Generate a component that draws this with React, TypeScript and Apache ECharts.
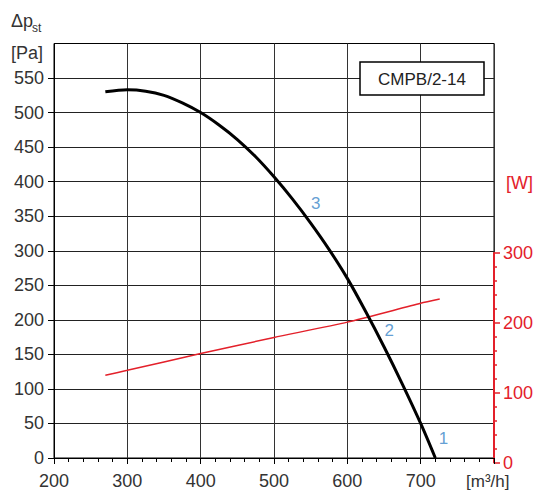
import React, { useEffect, useRef } from "react";
import * as echarts from "echarts";

const flowP = [270, 300, 325, 350, 375, 400, 425, 450, 475, 500, 525, 550, 575, 600, 625, 650, 675, 700, 720];
const pressure = [530, 533, 531, 525, 514, 500, 482, 461, 436, 407, 375, 340, 302, 260, 212, 161, 107, 50, 0];

const flowW = [270, 300, 400, 500, 600, 700, 726];
const power = [125, 132, 156, 179, 201, 228, 234];

const curveLabels = ["3", "2", "1"];
const labelFlow = [557, 657, 731];
const labelPa = [369, 185, 28];

const yTicksLeft = [0, 50, 100, 150, 200, 250, 300, 350, 400, 450, 500, 550];

const FONT = "Liberation Sans, Arial, sans-serif";
const RED = "#e3202a";
const BLUE = "#3a86c8";

export default function App() {
  const ref = useRef<HTMLDivElement>(null);
  useEffect(() => {
    if (!ref.current) return;
    const chart = echarts.init(ref.current, null, { renderer: "svg" });
    const gridLeft = 54;
    const gridRight = 43;
    const gridTop = 43.5;
    const gridBottom = 27.5;
    chart.setOption({
      animation: false,
      textStyle: { fontFamily: FONT },
      grid: [
        {
          left: gridLeft,
          right: gridRight,
          top: gridTop,
          bottom: gridBottom,
          show: true,
          borderColor: "#000",
          borderWidth: 1,
          backgroundColor: "transparent",
        },
        {
          left: gridLeft,
          right: gridRight,
          top: 253,
          bottom: gridBottom,
        },
      ],
      xAxis: [
        {
          type: "value",
          gridIndex: 0,
          min: 200,
          max: 800,
          interval: 100,
          axisLine: { show: true, lineStyle: { color: "#000", width: 1 } },
          axisTick: { show: true, inside: false, length: 6, lineStyle: { color: "#000" } },
          minorTick: { show: true, splitNumber: 5, length: 4, lineStyle: { color: "#000" } },
          splitLine: { show: true, lineStyle: { color: "#333", width: 1 } },
          axisLabel: {
            color: "#333",
            fontSize: 18,
            margin: 14,
            fontFamily: FONT,
            formatter: (v: number) => (v === 800 ? "" : String(v)),
          },
        },
        {
          type: "value",
          gridIndex: 1,
          min: 200,
          max: 800,
          show: false,
        },
      ],
      yAxis: [
        {
          type: "value",
          gridIndex: 0,
          min: 0,
          max: 600,
          interval: 50,
          axisLine: { show: true, lineStyle: { color: "#000", width: 1 } },
          axisTick: {
            show: true,
            inside: false,
            length: 6,
            customValues: yTicksLeft,
            lineStyle: { color: "#000" },
          },
          splitLine: { show: true, lineStyle: { color: "#222", width: 1 } },
          axisLabel: {
            color: "#333",
            fontSize: 18,
            margin: 10,
            fontFamily: FONT,
            formatter: (v: number) => (v === 600 ? "" : String(v)),
          },
        },
        {
          type: "value",
          gridIndex: 1,
          position: "right",
          min: 0,
          max: 300,
          interval: 100,
          axisLine: { show: true, lineStyle: { color: RED, width: 2 } },
          axisTick: { show: true, inside: false, length: 6, lineStyle: { color: RED, width: 1.5 } },
          minorTick: { show: true, splitNumber: 5, length: 3, lineStyle: { color: RED, width: 1.5 } },
          splitLine: { show: false },
          axisLabel: { color: RED, fontSize: 18, margin: 9, fontFamily: FONT },
        },
      ],
      series: [
        {
          type: "line",
          xAxisIndex: 1,
          yAxisIndex: 1,
          data: flowW.map((f, i) => [f, power[i]]),
          showSymbol: false,
          symbol: "none",
          smooth: 0.2,
          lineStyle: { color: RED, width: 1.5 },
          z: 3,
        },
        {
          type: "line",
          xAxisIndex: 0,
          yAxisIndex: 0,
          data: flowP.map((f, i) => [f, pressure[i]]),
          showSymbol: false,
          symbol: "none",
          smooth: 0.3,
          lineStyle: { color: "#000", width: 3 },
          z: 4,
        },
        {
          type: "scatter",
          xAxisIndex: 0,
          yAxisIndex: 0,
          symbolSize: 0,
          data: labelFlow.map((f, i) => ({ value: [f, labelPa[i]], name: curveLabels[i] })),
          label: {
            show: true,
            position: "inside",
            formatter: (p: any) => p.name,
            color: BLUE,
            fontSize: 17,
            fontFamily: FONT,
          },
          z: 5,
        },
      ],
      graphic: [
        {
          type: "rect",
          shape: { x: 360, y: 62, width: 124, height: 33 },
          style: { fill: "#fff", stroke: "#000", lineWidth: 1.5 },
          z: 10,
        },
        {
          type: "text",
          x: 422,
          y: 79,
          style: {
            text: "CMPB/2-14",
            fontSize: 17,
            fontFamily: FONT,
            fill: "#222",
            align: "center",
            verticalAlign: "middle",
          },
          z: 11,
        },
        {
          type: "text",
          x: 11,
          y: 12,
          style: { text: "Δp", fontSize: 18, fontFamily: FONT, fill: "#333" },
        },
        {
          type: "text",
          x: 32,
          y: 22,
          style: { text: "st", fontSize: 12, fontFamily: FONT, fill: "#333" },
        },
        {
          type: "text",
          x: 11,
          y: 44,
          style: { text: "[Pa]", fontSize: 18, fontFamily: FONT, fill: "#333" },
        },
        {
          type: "text",
          x: 506,
          y: 174,
          style: { text: "[W]", fontSize: 18, fontFamily: FONT, fill: RED },
        },
        {
          type: "text",
          x: 466,
          y: 481,
          style: {
            text: "[m³/h]",
            fontSize: 17,
            fontFamily: FONT,
            fill: "#333",
            verticalAlign: "middle",
          },
        },
      ],
    });
    return () => chart.dispose();
  }, []);
  return <div ref={ref} style={{ width: 537, height: 490, position: "absolute", left: 0, top: 0 }} />;
}
